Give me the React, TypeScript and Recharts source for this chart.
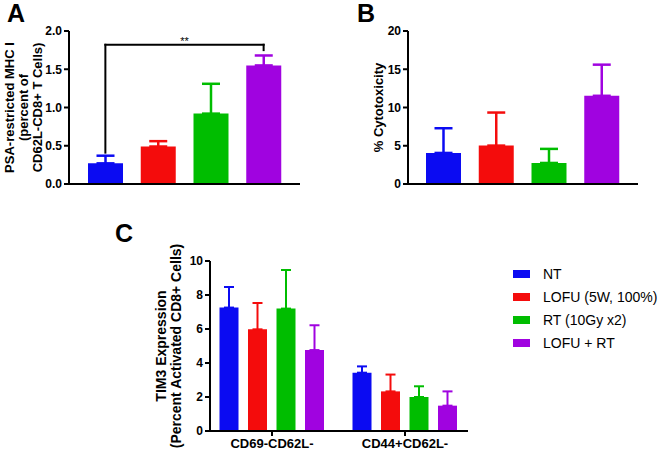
import React from 'react';
import { BarChart, Bar, XAxis, YAxis, ErrorBar, Cell, ReferenceLine, Legend } from 'recharts';

// treatment groups, shared by all three panels
const groups = ['NT', 'LOFU (5W, 100%)', 'RT (10Gy x2)', 'LOFU + RT'];
const groupColors = ['#0b0bf2', '#f40c0c', '#00bd00', '#a003e0'];

// A: PSA-restricted MHC I (mean, SEM)
const mhcMeans = [0.27, 0.49, 0.92, 1.55];
const mhcErrors = [0.1, 0.07, 0.39, 0.13];
const mhcTicks = [0, 0.5, 1, 1.5, 2];

// B: % cytotoxicity
const cytoMeans = [4.06, 5.02, 2.75, 11.53];
const cytoErrors = [3.23, 4.32, 1.84, 4.07];
const cytoTicks = [0, 5, 10, 15, 20];

// C: TIM3 expression, one row per group, one column per subset
const tim3Subsets = ['CD69-CD62L-', 'CD44+CD62L-'];
const tim3Means = [
    [7.26, 3.43],
    [5.98, 2.33],
    [7.2, 2.0],
    [4.76, 1.49],
];
const tim3Errors = [
    [1.21, 0.37],
    [1.55, 0.99],
    [2.27, 0.63],
    [1.46, 0.84],
];
const tim3Ticks = [0, 2, 4, 6, 8, 10];

const FONT = '"Liberation Sans", Arial, Helvetica, sans-serif';

type Row = Record<string, string | number | number[]>;

const singleSeriesRows = (means: number[], errors: number[]): Row[] =>
    groups.map((group, i) => ({ group, value: means[i], [`err${i}`]: [0, errors[i]] }));

const mhcData = singleSeriesRows(mhcMeans, mhcErrors);
const cytoData = singleSeriesRows(cytoMeans, cytoErrors);
const tim3Data = tim3Subsets.map((subset, k) => {
    const row: Row = { subset };
    groups.forEach((_, j) => {
        row[`s${j}`] = tim3Means[j][k];
        row[`e${j}`] = [0, tim3Errors[j][k]];
    });
    return row;
});

const axisLine = { stroke: '#000', strokeWidth: 2 };
const tickLine = { stroke: '#000', strokeWidth: 2 };
const tickText = { fill: '#000', fontSize: 12, fontWeight: 700, fontFamily: FONT };

// rotated, multi-line y axis title
const axisTitle = (lines: string[], firstCenter: number, gap: number, fontSize: number) => (props: any) => {
    const vb = props.viewBox || { x: 0, y: 0, width: 0, height: 0 };
    const cy = vb.y + vb.height / 2;
    return (
        <g>
            {lines.map((line, i) => {
                const bx = vb.x + firstCenter + i * gap + fontSize * 0.36;
                return (
                    <text
                        key={line}
                        transform={`translate(${bx},${cy}) rotate(-90)`}
                        textAnchor="middle"
                        fontSize={fontSize}
                        fontWeight={700}
                        fontFamily={FONT}
                        fill="#000"
                    >
                        {line}
                    </text>
                );
            })}
        </g>
    );
};

const GroupLegend = ({ payload }: any) => (
    <div style={{ fontFamily: FONT, fontSize: 14, color: '#000' }}>
        {(payload || []).map((p: any) => (
            <div key={p.value} style={{ display: 'flex', alignItems: 'center', height: 23 }}>
                <span style={{ width: 17, height: 8, background: p.color, marginRight: 13, display: 'inline-block' }} />
                <span>{p.value}</span>
            </div>
        ))}
    </div>
);

const panelLetter = (left: number, top: number): React.CSSProperties => ({
    position: 'absolute',
    left,
    top,
    fontFamily: FONT,
    fontWeight: 700,
    fontSize: 25,
    lineHeight: '25px',
});

// C layout: two category bands of 133px, bars 19px wide with 9.5px gaps
const tim3BarSize = 19;
const tim3BarGap = 9.5;
const tim3Band = 133;
const tim3Step = (tim3BarSize + tim3BarGap) / tim3Band;
const bracketLeft = 1.5 - 1.5 * tim3Step;
const bracketRight = 1.5 + 1.5 * tim3Step;

const bracket = { stroke: '#000', strokeWidth: 2, strokeLinecap: 'square' as const };

export default function App() {
    return (
        <div style={{ position: 'relative', width: 659, height: 450, background: '#fff', overflow: 'hidden' }}>
            <style>{'body{margin:0}'}</style>

            <div style={{ position: 'absolute', left: 0, top: 0 }}>
                <BarChart width={330} height={200} data={mhcData} margin={{ top: 31, right: 30, bottom: 0, left: 0 }} barSize={35}>
                    <XAxis dataKey="group" height={16} tick={false} tickSize={5} axisLine={axisLine} tickLine={tickLine} padding={{ left: 10, right: 10 }} />
                    <YAxis
                        width={69}
                        domain={[0, 2]}
                        ticks={mhcTicks}
                        interval={0}
                        tickFormatter={(v: number) => v.toFixed(1)}
                        tick={tickText}
                        tickSize={5}
                        axisLine={axisLine}
                        tickLine={tickLine}
                        label={{ content: axisTitle(['PSA-restricted MHC I', '(percent of', 'CD62L-CD8+ T Cells)'], 9, 14, 13) }}
                    />
                    <Bar dataKey="value" isAnimationActive={false}>
                        {groups.map((g, i) => (
                            <Cell key={g} fill={groupColors[i]} />
                        ))}
                        {groups.map((g, i) => (
                            <ErrorBar key={g} dataKey={`err${i}`} direction="y" width={9} strokeWidth={2.5} stroke={groupColors[i]} isAnimationActive={false} />
                        ))}
                    </Bar>
                    <ReferenceLine
                        segment={[{ x: groups[0], y: 1.82 }, { x: groups[3], y: 1.82 }]}
                        {...bracket}
                        label={{ value: '**', position: 'top', offset: 0, fill: '#000', fontSize: 11, fontFamily: FONT }}
                    />
                    <ReferenceLine segment={[{ x: groups[0], y: 1.82 }, { x: groups[0], y: 0.41 }]} {...bracket} />
                    <ReferenceLine segment={[{ x: groups[3], y: 1.82 }, { x: groups[3], y: 1.75 }]} {...bracket} />
                </BarChart>
            </div>

            <div style={{ position: 'absolute', left: 330, top: 0 }}>
                <BarChart width={329} height={200} data={cytoData} margin={{ top: 31, right: 21, bottom: 0, left: 0 }} barSize={35}>
                    <XAxis dataKey="group" height={16} tick={false} tickSize={5} axisLine={axisLine} tickLine={tickLine} padding={{ left: 9, right: 10 }} />
                    <YAxis
                        width={78}
                        domain={[0, 20]}
                        ticks={cytoTicks}
                        interval={0}
                        tick={tickText}
                        tickSize={5}
                        axisLine={axisLine}
                        tickLine={tickLine}
                        label={{ content: axisTitle(['% Cytotoxicity'], 48, 0, 13) }}
                    />
                    <Bar dataKey="value" isAnimationActive={false}>
                        {groups.map((g, i) => (
                            <Cell key={g} fill={groupColors[i]} />
                        ))}
                        {groups.map((g, i) => (
                            <ErrorBar key={g} dataKey={`err${i}`} direction="y" width={9} strokeWidth={2.5} stroke={groupColors[i]} isAnimationActive={false} />
                        ))}
                    </Bar>
                </BarChart>
            </div>

            <div style={{ position: 'absolute', left: 0, top: 200 }}>
                <BarChart
                    width={659}
                    height={250}
                    data={tim3Data}
                    margin={{ top: 61, right: 191, bottom: 0, left: 0 }}
                    barSize={tim3BarSize}
                    barGap={tim3BarGap}
                >
                    <XAxis
                        dataKey="subset"
                        height={19}
                        tick={{ ...tickText, fontSize: 13 }}
                        tickSize={5}
                        tickMargin={3}
                        axisLine={axisLine}
                        tickLine={tickLine}
                        padding={{ left: -4.5, right: -3.5 }}
                    />
                    <XAxis xAxisId="pos" type="number" domain={[0, 2]} hide padding={{ left: -4.5, right: -3.5 }} />
                    <YAxis
                        width={210}
                        domain={[0, 10]}
                        ticks={tim3Ticks}
                        interval={0}
                        tick={tickText}
                        tickSize={5}
                        axisLine={axisLine}
                        tickLine={tickLine}
                        label={{ content: axisTitle(['TIM3 Expression', '(Percent Activated CD8+ Cells)'], 161, 15, 14) }}
                    />
                    <Legend
                        layout="horizontal"
                        verticalAlign="middle"
                        align="center"
                        itemSorter="dataKey"
                        wrapperStyle={{ left: 513, top: 62, width: 146 }}
                        content={<GroupLegend />}
                    />
                    {groups.map((g, j) => (
                        <Bar key={g} dataKey={`s${j}`} name={g} fill={groupColors[j]} isAnimationActive={false}>
                            <ErrorBar dataKey={`e${j}`} direction="y" width={5} strokeWidth={2} stroke={groupColors[j]} isAnimationActive={false} />
                        </Bar>
                    ))}
                    <ReferenceLine
                        xAxisId="pos"
                        segment={[{ x: bracketLeft, y: 4.8 }, { x: bracketRight, y: 4.8 }]}
                        {...bracket}
                        label={{ value: '*', position: 'top', offset: 0, fill: '#000', fontSize: 11, fontFamily: FONT }}
                    />
                    <ReferenceLine xAxisId="pos" segment={[{ x: bracketLeft, y: 4.8 }, { x: bracketLeft, y: 4.35 }]} {...bracket} />
                    <ReferenceLine xAxisId="pos" segment={[{ x: bracketRight, y: 4.8 }, { x: bracketRight, y: 2.8 }]} {...bracket} />
                </BarChart>
            </div>

            <div style={panelLetter(7, 1)}>A</div>
            <div style={panelLetter(357, 1)}>B</div>
            <div style={panelLetter(115, 221)}>C</div>
        </div>
    );
}
